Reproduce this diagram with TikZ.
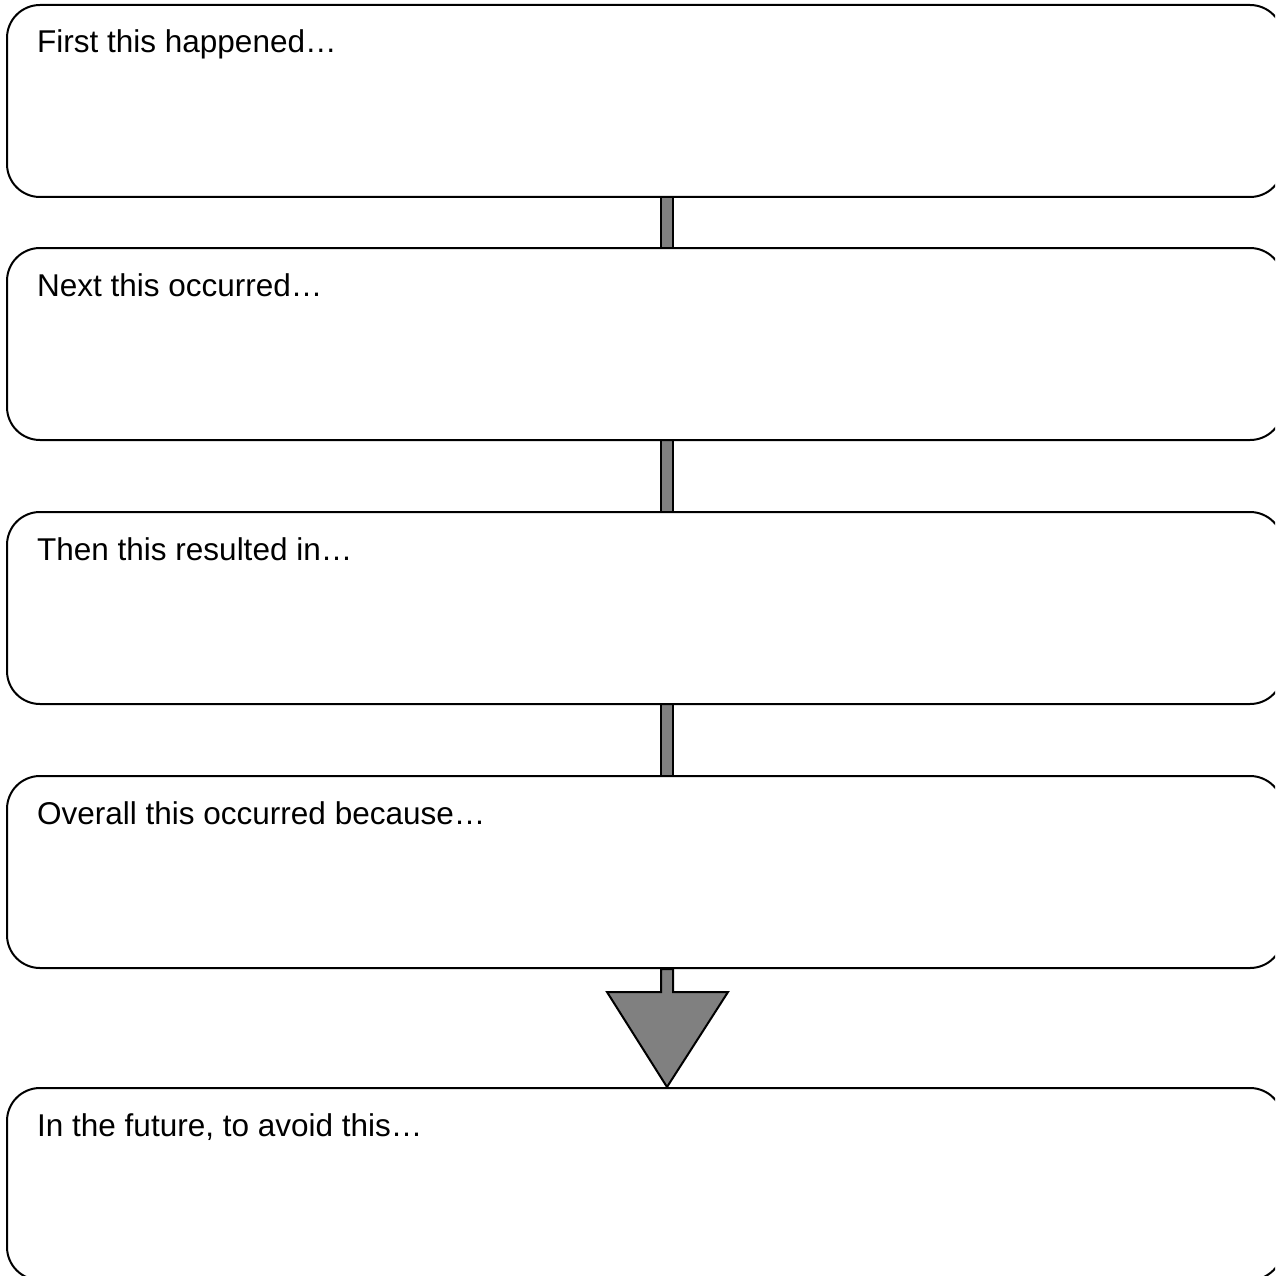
\documentclass[tikz,border=0pt]{standalone}
\usepackage{fontspec}
\setmainfont{Liberation Sans}
\usetikzlibrary{calc}
\tikzset{
  stage/.style={draw=black, line width=2pt, fill=white, rounded corners=33pt,
    minimum width=1276pt, minimum height=192pt, inner sep=0pt},
  caption/.style={anchor=base west, inner sep=0pt, font=\fontsize{31.5pt}{36pt}\selectfont},
  link/.style={draw=black, fill=black!50, line width=2pt},
}
\begin{document}
\begin{tikzpicture}[x=1pt,y=-1pt]
\useasboundingbox (0,0) rectangle (1275,1276);
\clip (0,0) rectangle (1275,1276);
\coordinate (axis) at (667,0);
% box centres
\path (645,101) coordinate (c1) (645,344) coordinate (c2) (645,608) coordinate (c3)
      (645,872) coordinate (c4) (645,1184) coordinate (c5);
% connectors behind the boxes
\filldraw[link] ($(c1 -| axis)+(-6,0)$) rectangle ($(c2 -| axis)+(6,0)$);
\filldraw[link] ($(c2 -| axis)+(-6,0)$) rectangle ($(c3 -| axis)+(6,0)$);
\filldraw[link] ($(c3 -| axis)+(-6,0)$) rectangle ($(c4 -| axis)+(6,0)$);
% boxes
\node[stage] (b1) at (c1) {};
\node[stage] (b2) at (c2) {};
\node[stage] (b3) at (c3) {};
\node[stage] (b4) at (c4) {};
\node[stage] (b5) at (c5) {};
% final arrow
\coordinate (a0) at (b4.south -| axis);
\coordinate (a1) at (b5.north -| axis);
\filldraw[link, line join=miter]
  ($(a0)+(-6,0)$) -- ($(a0)+(-6,23)$) -- ($(a0)+(-60,23)$) -- (a1)
  -- ($(a0)+(61,23)$) -- ($(a0)+(6,23)$) -- ($(a0)+(6,0)$) -- cycle;
% captions
\node[caption] (t1) at ($(b1.north west)+(31,49)$) {First this happened…};
\node[caption] (t2) at ($(b2.north west)+(31,49)$) {Next this occurred…};
\node[caption] (t3) at ($(b3.north west)+(31,49)$) {Then this resulted in…};
\node[caption] (t4) at ($(b4.north west)+(31,49)$) {Overall this occurred because…};
\node[caption] (t5) at ($(b5.north west)+(31,49)$) {In the future, to avoid this…};
\end{tikzpicture}
\end{document}
